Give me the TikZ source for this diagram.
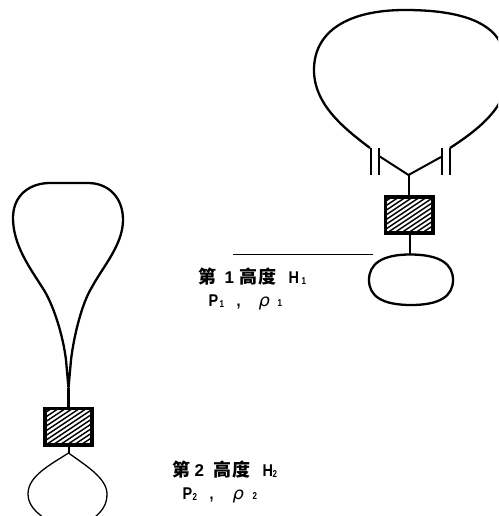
\documentclass[tikz,border=0pt]{standalone}
\usepackage{fontspec}
\setmainfont{Liberation Sans}
\newfontfamily\cjk{Noto Sans CJK SC}
\newfontfamily\greek{DejaVu Sans}
\usetikzlibrary{calc}
\tikzset{
  envelope/.style={line width=2.3pt,line join=round},
  thinenv/.style={line width=1.3pt},
  rope/.style={line width=2pt},
  hatchbox/.style={draw=black,line width=2.5pt,fill=white,minimum width=46pt,minimum height=35pt,inner sep=0pt},
  hatchline/.style={line width=1.5pt},
  lbl/.style={anchor=west,inner sep=0pt}
}
\newcommand{\hatchfill}[1]{%
  \begin{scope}
    \clip (#1.south west) rectangle (#1.north east);
    \foreach \k in {-72,-65,...,72}
      \draw[hatchline] ($(#1.center)+(\k-30,20)$) -- ($(#1.center)+(\k+30,-20)$);
  \end{scope}}
\newcommand{\at}[2]{\makebox[0pt][l]{\hspace*{#1pt}#2}}
\newcommand{\bigc}[1]{{\cjk\bfseries\fontsize{18}{18}\selectfont #1}}
\newcommand{\dig}[1]{{\bfseries\fontsize{17}{18}\selectfont #1}}
\newcommand{\lat}[1]{\scalebox{0.85}[1]{\bfseries\fontsize{17}{18}\selectfont #1}}
\newcommand{\subd}[1]{\scalebox{0.8}[1]{\bfseries\fontsize{10}{10}\selectfont #1}}
\newcommand{\rhoc}{\scalebox{1.05}[1]{\greek\itshape\fontsize{17}{18}\selectfont ρ}}
\begin{document}
\begin{tikzpicture}[x=1pt,y=-1pt]
\useasboundingbox (0,0) rectangle (498,516);
\clip (0,0) rectangle (498,516);
% upper balloon
\coordinate (ul) at (370,148);
\coordinate (ur) at (450,148);
\draw[envelope] (ul) .. controls (345,129) and (314,105) .. (314,70)
  .. controls (314,30) and (350,10) .. (405,10)
  .. controls (455,10) and (488,20) .. (500,42);
\draw[envelope] (500,102) .. controls (490,120) and (470,135) .. (ur);
\coordinate (bl1t) at (370.5,148); \coordinate (bl1b) at (370.5,175);
\coordinate (bl2t) at (378.5,148); \coordinate (bl2b) at (378.5,175);
\coordinate (br1t) at (441.5,148); \coordinate (br1b) at (441.5,175);
\coordinate (br2t) at (449.5,148); \coordinate (br2b) at (449.5,175);
\draw[rope] (bl1t) -- (bl1b);
\draw[rope] (bl2t) -- (bl2b);
\draw[rope] (br1t) -- (br1b);
\draw[rope] (br2t) -- (br2b);
\coordinate (vj) at (408.5,175);
\coordinate (vl) at (379,156);
\coordinate (vr) at (441,157);
\draw[rope] (vl) -- (vj) -- (vr);
\node[hatchbox] (box1) at (409,215) {};
\hatchfill{box1}
\draw[line width=2.5pt] (box1.south west) rectangle (box1.north east);
\draw[rope] (vj) -- (box1.north -| vj);
\coordinate (gon1) at (410,254.5);
\draw[envelope] (gon1) .. controls (440,254.5) and (453,264) .. (453,280)
  .. controls (453,296) and (440,305) .. (411,305)
  .. controls (382,305) and (369,296) .. (369,280)
  .. controls (369,264) and (382,254.5) .. (gon1) -- cycle;
\draw[rope] (box1.south -| gon1) -- (gon1);
\node[inner sep=0pt] (linehead) at (374,254.5) {};
\coordinate (lineend) at (233,254.5);
\draw[line width=1.3pt] (lineend) -- (linehead);
% lower balloon
\coordinate (tip) at (68.5,388);
\draw[envelope] (tip) -- (66,360) .. controls (63,335) and (53,303) .. (42,287)
  .. controls (30,268) and (13,245) .. (13,218)
  .. controls (13,195) and (30,183) .. (50,183)
  -- (88,183)
  .. controls (108,183) and (123,197) .. (123,220)
  .. controls (123,245) and (102,268) .. (92,287)
  .. controls (82,303) and (74,335) .. (71,360) -- (tip);
\node[hatchbox] (box2) at (68.5,426.5) {};
\hatchfill{box2}
\draw[line width=2.5pt] (box2.south west) rectangle (box2.north east);
\draw[line width=2.4pt] (tip) -- (tip |- box2.north);
\coordinate (gtip) at (68.5,453);
\draw[rope] (box2.south -| gtip) -- (gtip);
\draw[thinenv] (gtip) .. controls (85,465) and (107,478) .. (107,494)
  .. controls (107,505) and (102,511) .. (94,518);
\draw[thinenv] (gtip) .. controls (50,465) and (28,476) .. (28,494)
  .. controls (28,505) and (36,512) .. (44,518);
% labels
\node[lbl] (t1a) at (198,277) {\at{0}{\bigc{第}}\at{26}{\dig{1}}\at{41}{\bigc{高}}\at{60}{\bigc{度}}\at{90}{\lat{H}}\at{103}{\raisebox{-1pt}{\subd{1}}}};
\node[lbl] (t1b) at (208,302) {\at{0}{\lat{P}}\at{11}{\raisebox{-1pt}{\subd{1}}}\at{28}{\lat{,}}\at{50}{\rhoc}\at{69}{\subd{1}}};
\node[lbl] (t2a) at (172,470) {\at{0}{\bigc{第}}\at{22}{\dig{2}}\at{41}{\bigc{高}}\at{60}{\bigc{度}}\at{90}{\lat{H}}\at{100}{\raisebox{-1pt}{\subd{2}}}};
\node[lbl] (t2b) at (182,495) {\at{0}{\lat{P}}\at{10}{\raisebox{-1pt}{\subd{2}}}\at{27}{\lat{,}}\at{50}{\rhoc}\at{70}{\subd{2}}};
\end{tikzpicture}
\end{document}
